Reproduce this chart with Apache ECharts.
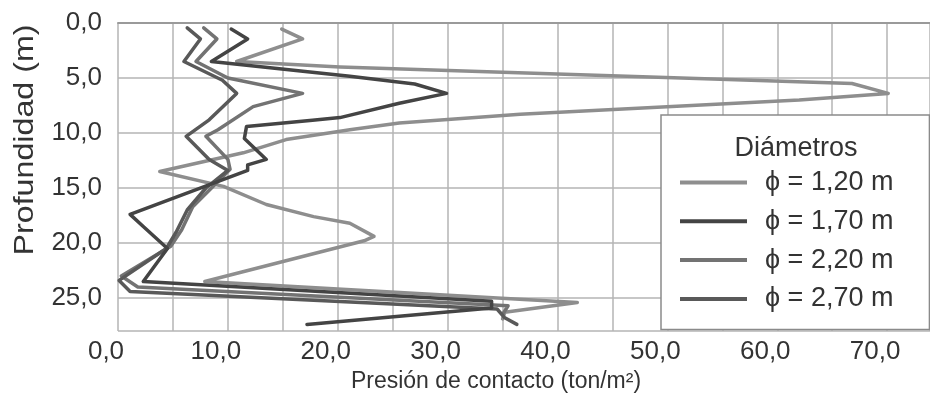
<!DOCTYPE html>
<html>
<head>
<meta charset="utf-8">
<script src="https://cdn.jsdelivr.net/npm/echarts@6/dist/echarts.min.js"></script>
<style>
html,body{margin:0;padding:0;background:#fff;}
#chart{width:930px;height:404px;}
</style>
</head>
<body>
<div id="chart"></div>
<script>
// Series names
const seriesNames = ['ϕ = 1,20 m', 'ϕ = 1,70 m', 'ϕ = 2,20 m', 'ϕ = 2,70 m'];

// phi = 1,20 m : pressure (ton/m2) and depth (m)
const p120 = [14.9, 16.8, 10.8, 20.2, 66.8, 70.1, 62.0, 36.6, 25.6, 21.1, 15.3, 11.4, 3.8, 9.6, 13.5, 17.8, 21.1, 23.3, 22.4, 7.9, 41.8, 35.2, 35.0];
const d120 = [0.55, 1.45, 3.5, 4.0, 5.5, 6.4, 7.0, 8.3, 9.1, 9.7, 10.6, 11.8, 13.5, 14.85, 16.5, 17.6, 18.2, 19.4, 19.8, 23.5, 25.4, 26.3, 26.9];

// phi = 1,70 m
const p170 = [10.3, 11.8, 8.5, 21.1, 27.0, 29.9, 25.6, 20.2, 17.7, 11.7, 11.5, 13.5, 11.8, 11.8, 1.1, 2.3, 4.5, 2.3, 34.0, 34.0, 17.2];
const d170 = [0.55, 1.45, 3.5, 4.85, 5.55, 6.4, 7.3, 8.6, 8.85, 9.4, 10.5, 12.4, 12.9, 13.4, 17.4, 18.5, 20.5, 23.5, 25.3, 25.9, 27.4];

// phi = 2,20 m
const p220 = [7.8, 9.0, 7.1, 10.0, 16.8, 12.3, 9.1, 8.0, 10.0, 10.2, 8.6, 6.8, 5.8, 4.8, 0.3, 1.8, 35.5, 35.0];
const d220 = [0.45, 1.45, 3.5, 5.0, 6.4, 7.6, 9.7, 10.3, 12.4, 13.3, 14.9, 16.7, 18.8, 20.3, 23.0, 24.0, 25.7, 26.5];

// phi = 2,70 m
const p270 = [6.3, 7.5, 6.0, 9.5, 10.8, 8.3, 6.2, 8.3, 10.0, 8.0, 6.3, 5.3, 4.4, 0.1, 1.1, 34.5, 35.2, 36.3];
const d270 = [0.45, 1.45, 3.5, 5.2, 6.4, 8.8, 10.3, 12.4, 13.4, 15.0, 17.0, 19.0, 20.5, 23.4, 24.4, 26.0, 26.8, 27.4];

const seriesColors = ['#8e8e8e', '#444444', '#737373', '#595959'];

function zip(p, d) { return p.map((v, i) => [v, d[i]]); }
const seriesData = [zip(p120, d120), zip(p170, d170), zip(p220, d220), zip(p270, d270)];

const fmt = v => v.toFixed(1).replace('.', ',');
const FONT = "'Liberation Sans', Arial, sans-serif";

const chart = echarts.init(document.getElementById('chart'), null, {renderer: 'canvas'});
chart.setOption({
  animation: false,
  backgroundColor: '#fff',
  grid: {left: 118, top: 23, right: 0, height: 308, containLabel: false},
  xAxis: {
    type: 'value', min: 0, max: 73.9, interval: 5,
    axisLine: {show: true, lineStyle: {color: '#9a9a9a', width: 2}},
    axisTick: {show: false},
    splitLine: {show: true, lineStyle: {color: '#b4b4b4', width: 1.5}},
    axisLabel: {
      formatter: v => (Math.abs(v % 10) < 1e-6 ? fmt(v) : ''),
      showMaxLabel: false,
      fontFamily: FONT, fontSize: 26, color: '#333', margin: 8,
      padding: [0, 24, 0, 0]
    }
  },
  yAxis: {
    type: 'value', min: 0, max: 28, interval: 5, inverse: true,
    axisLine: {show: false},
    axisTick: {show: false},
    splitLine: {show: true, lineStyle: {color: '#b4b4b4', width: 1.5}},
    axisLabel: {formatter: fmt, showMaxLabel: false, fontFamily: FONT, fontSize: 26, color: '#333', margin: 16}
  },
  legend: {
    orient: 'vertical', left: 661, top: 115,
    padding: [54, 36, 17, 19],
    backgroundColor: '#fff', borderColor: '#8a8a8a', borderWidth: 1.5,
    icon: 'rect', itemWidth: 67, itemHeight: 4, itemGap: 11.8,
    textStyle: {fontFamily: FONT, fontSize: 27, color: '#333', lineHeight: 27, padding: [0, 0, 0, 13]},
    data: seriesNames
  },
  graphic: [
    {type: 'text', x: 796, y: 149, z: 100,
     style: {text: 'Diámetros', font: "27px 'Liberation Sans', Arial, sans-serif", fill: '#333', textAlign: 'center', textVerticalAlign: 'middle'}},
    {type: 'text', x: 25, y: 140, rotation: Math.PI / 2, scaleX: 1.15,
     style: {text: 'Profundidad (m)', font: "28px 'Liberation Sans', Arial, sans-serif", fill: '#333', textAlign: 'center', textVerticalAlign: 'middle'}},
    {type: 'text', x: 496, y: 382,
     style: {text: 'Presión de contacto (ton/m²)', font: "23px 'Liberation Sans', Arial, sans-serif", fill: '#333', textAlign: 'center', textVerticalAlign: 'middle'}}
  ],
  series: seriesNames.map((name, i) => ({
    name: name, type: 'line', data: seriesData[i],
    symbol: 'none', smooth: false, clip: true,
    lineStyle: {color: seriesColors[i], width: 3.5, join: 'round', cap: 'round'},
    itemStyle: {color: seriesColors[i]},
    z: 2 + (i === 1 ? 1 : 0)
  }))
});
</script>
</body>
</html>
